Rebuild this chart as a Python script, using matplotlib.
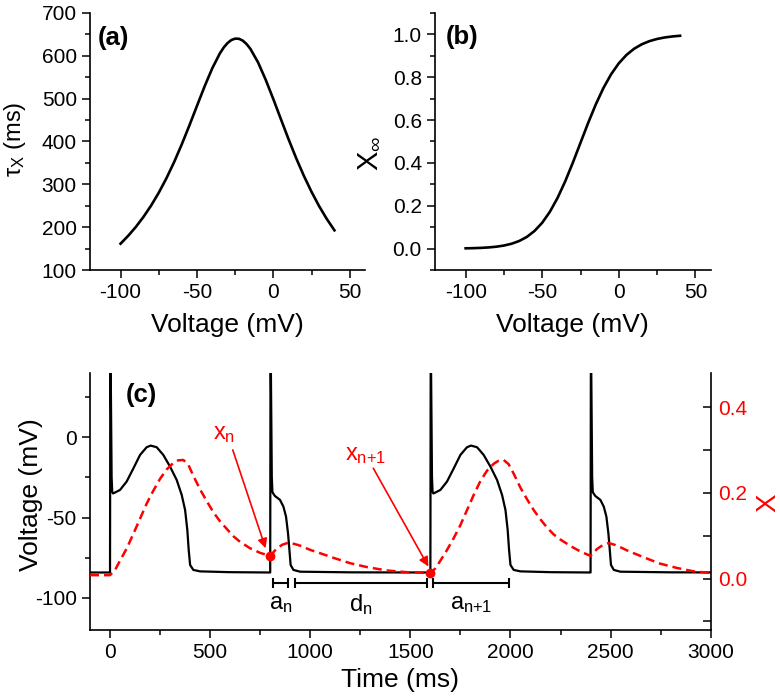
import matplotlib
matplotlib.use('Agg')
import matplotlib.pyplot as plt
from matplotlib.ticker import MultipleLocator, FormatStrFormatter

plt.rcParams['font.family'] = ['Liberation Sans', 'DejaVu Sans']
plt.rcParams['mathtext.fontset'] = 'custom'
plt.rcParams['mathtext.rm'] = 'Liberation Sans'
plt.rcParams['mathtext.it'] = 'Liberation Sans'
plt.rcParams['mathtext.bf'] = 'Liberation Sans:bold'
plt.rcParams['axes.unicode_minus'] = False

# ---------------- data: panel (a) ----------------
volt_a = [-100, -95, -90, -85, -80, -75, -70, -65, -60, -55, -50, -45, -40, -35, -32.5,
          -30, -27.5, -25, -22.5, -20, -17.5, -15, -10, -5, 0, 5, 10, 15, 20, 25, 30, 35, 40]
tau_x = [161.4, 179.9, 200.5, 224.0, 250.4, 280.4, 314.0, 351.5, 392.8, 437.0, 483.0, 528.6,
         570.7, 605.7, 619.3, 629.8, 636.9, 640.2, 639.8, 635.5, 627.5, 616.2, 584.7, 544.2,
         498.9, 451.7, 405.0, 360.7, 319.7, 282.5, 248.9, 219.1, 192.6]

# ---------------- data: panel (b) ----------------
volt_b = [-100, -95, -90, -85, -80, -75, -70, -65, -60, -55, -50, -45, -40, -35, -30, -25,
          -20, -15, -10, -5, 0, 5, 10, 15, 20, 25, 30, 35, 40]
x_inf = [0.0012, 0.0020, 0.0033, 0.0054, 0.0088, 0.0142, 0.0226, 0.0355, 0.0547, 0.0824,
         0.1207, 0.1718, 0.2364, 0.3138, 0.4013, 0.4942, 0.5869, 0.6737, 0.7503, 0.8142,
         0.8652, 0.9042, 0.9331, 0.9539, 0.9686, 0.9788, 0.9858, 0.9905, 0.9937]

# ---------------- data: panel (c) ----------------
rest_t = [-100]
rest_v = [-84.2]
stim_times = [0, 800, 1600, 2400]
beat_kind = ['long', 'short', 'long', 'short']
long_t = [0, 1.5, 3, 8, 11, 15, 25, 50, 83, 117, 150, 183, 203, 233, 266, 300, 333, 358,
          375, 386, 393, 400, 416, 450, 600, 799]
long_v = [-84.2, 48, 48, -25, -34, -35, -34.4, -32.8, -27.6, -19.3, -11.0, -6.2, -5.2, -6.2,
          -11.0, -18.3, -26.6, -35.9, -45.3, -57.7, -70.2, -79.5, -82.6, -83.5, -84.0, -84.2]
short_t = [0, 1.5, 3, 8, 11, 15, 24, 49, 66, 79, 89, 96, 102, 116, 149, 400, 799]
short_v = [-84.2, 48, 48, -25, -34, -35, -36.6, -39.0, -43.2, -49.4, -59.8, -70.2, -79.5,
           -82.6, -83.7, -84.1, -84.2]

time_x = [-100, 0, 25, 50, 83, 117, 150, 183, 216, 250, 283, 316, 340, 366, 391, 416, 450,
          483, 516, 549, 583, 616, 649, 699, 750, 800,
          832, 860, 891, 920, 949, 1000, 1032, 1116, 1199, 1282, 1382, 1482, 1600,
          1625, 1650, 1682, 1717, 1750, 1783, 1816, 1850, 1883, 1916, 1940, 1966, 1991, 2016,
          2050, 2083, 2116, 2150, 2183, 2216, 2250, 2300, 2350, 2400,
          2432, 2460, 2490, 2520, 2550, 2581, 2664, 2747, 2830, 2914, 3000]
gate_x = [0.008, 0.008, 0.020, 0.042, 0.070, 0.105, 0.140, 0.175, 0.205, 0.233, 0.255, 0.270,
          0.276, 0.277, 0.266, 0.240, 0.208, 0.181, 0.155, 0.134, 0.116, 0.099, 0.086, 0.071,
          0.060, 0.053,
          0.070, 0.079, 0.084, 0.081, 0.077, 0.067, 0.062, 0.0485, 0.036, 0.027, 0.019, 0.015,
          0.013,
          0.024, 0.042, 0.066, 0.095, 0.125, 0.160, 0.195, 0.228, 0.252, 0.268, 0.275, 0.277,
          0.267, 0.245, 0.212, 0.185, 0.160, 0.138, 0.119, 0.103, 0.091, 0.076, 0.063, 0.053,
          0.069, 0.078, 0.083, 0.079, 0.073, 0.066, 0.050, 0.035, 0.025, 0.017, 0.013]

marked_t = [800, 1600]
marked_x = [0.053, 0.013]
marked_labels = ['$x_n$', '$x_{n{+}1}$']

interval_start = [812, 924, 1612]
interval_end = [891, 1582, 1995]
interval_labels = ['$a_n$', '$d_n$', '$a_{n{+}1}$']

# ---------------- figure ----------------
RED = '#ff0000'
TICK_FS = 15
LABEL_FS = 19
fig = plt.figure(figsize=(7.8, 7.0), dpi=100)
ax_a = fig.add_axes([90 / 780, 1 - 270 / 700, 275 / 780, 257 / 700])
ax_b = fig.add_axes([435 / 780, 1 - 270 / 700, 275.7 / 780, 257 / 700])
ax_c = fig.add_axes([90 / 780, 1 - 630 / 700, 620.7 / 780, 257 / 700])


def style(ax):
    for s in ['top', 'right']:
        ax.spines[s].set_visible(False)
    for s in ['left', 'bottom']:
        ax.spines[s].set_linewidth(1.2)
    ax.tick_params(which='major', direction='out', length=5.5, width=1.1,
                   labelsize=TICK_FS, pad=4)
    ax.tick_params(which='minor', direction='out', length=3.5, width=1.1)


# (a)
style(ax_a)
ax_a.plot(volt_a, tau_x, color='black', lw=1.9)
ax_a.set_xlim(-120, 60)
ax_a.set_ylim(100, 700)
ax_a.xaxis.set_major_locator(MultipleLocator(50))
ax_a.xaxis.set_minor_locator(MultipleLocator(25))
ax_a.yaxis.set_major_locator(MultipleLocator(100))
ax_a.yaxis.set_minor_locator(MultipleLocator(50))
ax_a.set_xlabel('Voltage (mV)', fontsize=LABEL_FS, labelpad=8)
ax_a.set_ylabel(r'$\tau_X$ (ms)', fontsize=17)
ax_a.yaxis.set_label_coords(-0.227, 0.51)
ax_a.text(0.084, 0.903, '(a)', transform=ax_a.transAxes, fontsize=18.5,
          fontweight='bold', ha='center', va='center')

# (b)
style(ax_b)
ax_b.plot(volt_b, x_inf, color='black', lw=1.9)
ax_b.set_xlim(-120, 60)
ax_b.set_ylim(-0.1, 1.1)
ax_b.xaxis.set_major_locator(MultipleLocator(50))
ax_b.xaxis.set_minor_locator(MultipleLocator(25))
ax_b.yaxis.set_major_locator(MultipleLocator(0.2))
ax_b.yaxis.set_minor_locator(MultipleLocator(0.1))
ax_b.yaxis.set_major_formatter(FormatStrFormatter('%.1f'))
ax_b.set_xlabel('Voltage (mV)', fontsize=LABEL_FS, labelpad=8)
ax_b.set_ylabel(r'$X_\infty$', fontsize=LABEL_FS + 2)
ax_b.yaxis.set_label_coords(-0.19, 0.455)
ax_b.text(0.098, 0.908, '(b)', transform=ax_b.transAxes, fontsize=18.5,
          fontweight='bold', ha='center', va='center')

# (c)
style(ax_c)
trace_t = list(rest_t)
trace_v = list(rest_v)
for t0, kind in zip(stim_times, beat_kind):
    tt, vv = (long_t, long_v) if kind == 'long' else (short_t, short_v)
    trace_t += [t0 + t for t in tt]
    trace_v += list(vv)
ax_c.plot(trace_t, trace_v, color='black', lw=1.6, zorder=3)
ax_c.set_xlim(-100, 3000)
ax_c.set_ylim(-120, 40)
ax_c.xaxis.set_major_locator(MultipleLocator(500))
ax_c.xaxis.set_minor_locator(MultipleLocator(250))
ax_c.yaxis.set_major_locator(MultipleLocator(50))
ax_c.yaxis.set_minor_locator(MultipleLocator(25))
ax_c.set_xlabel('Time (ms)', fontsize=LABEL_FS, labelpad=4)
ax_c.set_ylabel('Voltage (mV)', fontsize=LABEL_FS)
ax_c.yaxis.set_label_coords(-0.076, 0.525)
ax_c.text(0.082, 0.914, '(c)', transform=ax_c.transAxes, fontsize=18.5,
          fontweight='bold', ha='center', va='center')

# interval brackets
for s, e, lab in zip(interval_start, interval_end, interval_labels):
    ax_c.plot([s, e], [-90.5, -90.5], color='black', lw=1.5, solid_capstyle='butt')
    ax_c.plot([s, e], [-90.5, -90.5], ls='none', marker='|', ms=7, mew=1.5, color='black')
    ax_c.text((s + e) / 2, -104, lab, fontsize=17, ha='center', va='center')

# right axis: gating variable
ax_x = ax_c.twinx()
ax_x.spines['top'].set_visible(False)
ax_x.spines['left'].set_visible(False)
ax_x.spines['bottom'].set_visible(False)
ax_x.spines['right'].set_linewidth(1.2)
ax_c.spines['right'].set_visible(False)
ax_x.plot(time_x, gate_x, color=RED, lw=1.8, dashes=(3.6, 2.0), zorder=2)
ax_x.plot(marked_t, marked_x, ls='none', marker='o', ms=6, color=RED, zorder=4)
ax_x.set_ylim(-0.12, 0.48)
ax_x.yaxis.set_major_locator(MultipleLocator(0.2))
ax_x.yaxis.set_minor_locator(MultipleLocator(0.1))
ax_x.yaxis.set_major_formatter(FormatStrFormatter('%.1f'))
ax_x.tick_params(axis='y', which='both', direction='in', length=5.8, width=1.1,
                 labelsize=TICK_FS, labelcolor=RED, color='black', pad=5)
ax_x.set_ylabel('X', fontsize=20, color=RED)
ax_x.yaxis.set_label_coords(1.072, 0.494)

# arrows and labels for x_n, x_{n+1}
arrow_tail = [(613, -7.9), (1315, -19.3)]
arrow_head = [(777, -69.1), (1590, -80.5)]
label_pos = [(569, 2.0), (1274, -11.0)]
for tail, head, lp, lab in zip(arrow_tail, arrow_head, label_pos, marked_labels):
    ax_c.annotate('', xy=head, xytext=tail,
                  arrowprops=dict(arrowstyle='-|>', color=RED, lw=1.2,
                                  mutation_scale=14, shrinkA=0, shrinkB=0))
    ax_c.text(lp[0], lp[1], lab, color=RED, fontsize=17, ha='center', va='center')

fig.savefig('out.png', dpi=100)
